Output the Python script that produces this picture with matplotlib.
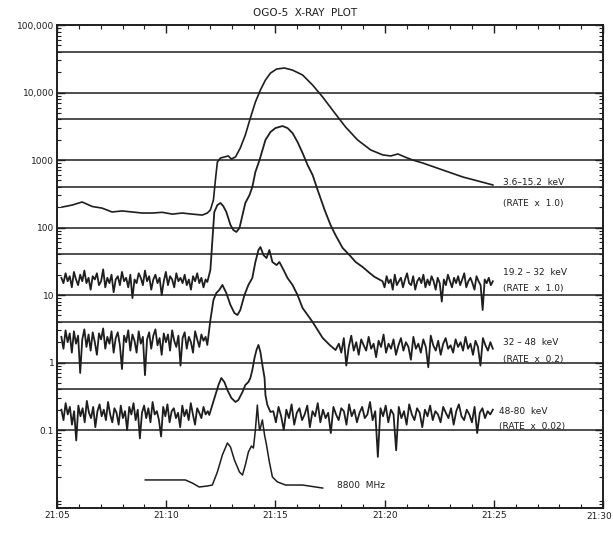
import numpy as np
import matplotlib
matplotlib.use('Agg')
import matplotlib.pyplot as plt
from matplotlib.ticker import FixedLocator, FixedFormatter, LogLocator, NullFormatter, MultipleLocator

# time = minutes after 21:00 UT

# 3.6-15.2 keV (rate x 1.0)
t_lo = [5.23, 5.69, 6.15, 6.61, 7.06, 7.52, 7.98, 8.44, 8.90, 9.36, 9.82, 10.28, 10.73,
        11.19, 11.65, 11.88, 12.02, 12.16, 12.25, 12.34, 12.48, 12.66, 12.84, 12.98, 13.17,
        13.39, 13.62, 13.85, 14.08, 14.31, 14.54, 14.77, 15.05, 15.41, 15.78, 16.24, 16.70,
        17.16, 17.61, 18.21, 18.76, 19.36, 19.91, 20.28, 20.60, 20.92, 21.28, 21.74, 22.66,
        23.58, 24.27, 24.95]
r_lo = [201, 215, 239, 205, 194, 170, 176, 170, 164, 164, 168, 158, 164,
        158, 153, 164, 182, 255, 506, 934, 1070, 1110, 1150, 1035, 1110,
        1510, 2350, 4190, 7230, 10900, 15300, 19400, 22300, 23100, 21500, 18200, 12900,
        8580, 5500, 3080, 1980, 1410, 1190, 1150, 1230, 1110, 1000, 903, 711,
        560, 489, 427]

# 19.2-32 keV (rate x 1.0)
c2_pre = [18, 15, 21, 16, 19, 13, 22, 17, 14, 20, 16, 23, 15, 18, 12, 19, 17, 21, 14, 16,
          24, 13, 18, 15, 20, 11, 17, 19, 14, 22, 16, 18, 13, 20, 9, 17, 15, 21, 18, 14,
          23, 16, 19, 12, 17, 20, 15, 18, 10, 16, 22, 14, 19, 17, 13, 21, 16, 18, 15, 20,
          14, 17, 12, 19, 16, 21, 15, 18, 13, 17]
t2_evt = [11.88, 12.02, 12.11, 12.20, 12.34, 12.48, 12.61, 12.75, 12.94, 13.07, 13.21, 13.35,
          13.49, 13.62, 13.81, 13.94, 14.08, 14.27, 14.54, 14.77, 15.00, 15.32, 15.55, 15.78,
          16.01, 16.24, 16.47, 16.70, 16.93, 17.25, 17.52, 17.75, 18.07, 18.39, 18.67, 18.99,
          19.31, 19.54]
r2_evt = [15.6, 23.5, 65, 170, 215, 231, 208, 170, 109, 92, 86, 98,
          153, 231, 303, 398, 664, 1000, 1980, 2600, 2980, 3190, 2980, 2510,
          1850, 1270, 843, 600, 359, 182, 109, 77, 50, 39, 30.8, 26,
          21.2, 18.5]
c2_post = [16, 13, 19, 15, 17, 12, 20, 14, 16, 18, 13, 17, 21, 15, 14, 19, 12, 16, 18, 15,
           20, 13, 17, 14, 19, 16, 12, 18, 15, 8, 17, 14, 20, 16, 13, 18, 15, 19, 14, 17,
           21, 13, 16, 18, 15, 12, 19, 16, 14, 6, 17, 15, 18, 14, 16]

# 32-48 keV (rate x 0.2)
c3_pre = [2.4, 1.6, 3.0, 2.0, 2.7, 1.4, 2.9, 1.9, 2.5, 0.7, 2.2, 3.1, 1.7, 2.6, 1.5, 2.8,
          2.0, 1.3, 2.7, 2.2, 3.2, 1.6, 2.4, 1.9, 2.9, 1.4, 2.3, 2.8, 1.8, 0.8, 2.5, 2.0,
          3.0, 1.5, 2.6, 2.1, 1.4, 2.9, 1.9, 2.4, 0.65, 2.2, 2.8, 1.6, 2.5, 3.1, 1.8, 2.3,
          1.3, 2.7, 2.0, 2.6, 1.5, 3.0, 2.1, 1.7, 2.5, 0.9, 2.3, 2.8, 1.6, 2.4, 2.0, 1.4,
          2.9, 2.2, 1.7, 2.6, 2.1, 2.4]
t3_evt = [11.88, 12.02, 12.16, 12.29, 12.43, 12.57, 12.75, 12.94, 13.12, 13.26, 13.39, 13.58,
          13.76, 13.94, 14.08, 14.22, 14.31, 14.45, 14.59, 14.72, 14.86, 15.05, 15.18, 15.37,
          15.55, 15.78, 16.01, 16.24, 16.47, 16.70, 16.93, 17.16, 17.48, 17.75]
r3_evt = [1.82, 4.26, 8.43, 10.7, 11.9, 14.1, 10.7, 7.1, 5.41, 5.06, 6.0, 10,
          14.1, 17.9, 30.8, 46.4, 51.4, 39.1, 35.3, 46.4, 30.8, 27.8, 30.8, 23.5,
          17.9, 14.1, 10, 6.42, 5.06, 3.98, 3.03, 2.31, 1.82, 1.53]
c3_post = [1.9, 1.4, 2.3, 0.9, 1.7, 2.5, 1.5, 2.0, 1.3, 2.2, 1.8, 1.5, 2.4, 1.6, 1.9, 1.2,
           2.1, 1.7, 2.6, 1.4, 1.9, 1.6, 2.2, 1.3, 1.8, 2.3, 1.5, 2.0, 1.7, 1.1, 2.4, 1.6,
           1.9, 1.4, 2.2, 1.7, 0.85, 2.5, 1.8, 1.5, 2.1, 1.3, 1.9, 2.3, 1.6, 1.8, 1.4, 2.2,
           1.7, 2.0, 1.5, 2.4, 1.6, 1.9, 1.3, 2.1, 1.7, 0.9, 2.3, 1.8, 1.5, 2.0, 1.6]

# 48-80 keV (rate x 0.02)
c4_pre = [0.20, 0.14, 0.25, 0.17, 0.22, 0.12, 0.19, 0.07, 0.23, 0.16, 0.21, 0.13, 0.27, 0.18,
          0.15, 0.22, 0.11, 0.19, 0.24, 0.16, 0.20, 0.14, 0.26, 0.17, 0.13, 0.21, 0.18, 0.12,
          0.23, 0.15, 0.19, 0.10, 0.22, 0.17, 0.25, 0.14, 0.20, 0.075, 0.18, 0.23, 0.15, 0.21,
          0.13, 0.26, 0.17, 0.19, 0.14, 0.08, 0.22, 0.16, 0.24, 0.13, 0.19, 0.21, 0.15, 0.18,
          0.11, 0.23, 0.16, 0.20, 0.14, 0.25, 0.17, 0.12, 0.21, 0.18, 0.15, 0.22, 0.17, 0.19]
t4_evt = [11.97, 12.11, 12.25, 12.39, 12.52, 12.66, 12.80, 12.98, 13.17, 13.30, 13.49, 13.62,
          13.76, 13.85, 13.94, 14.04, 14.13, 14.22, 14.31, 14.40, 14.50, 14.54, 14.63, 14.77]
r4_evt = [0.167, 0.234, 0.330, 0.464, 0.589, 0.514, 0.391, 0.298, 0.260, 0.278, 0.366, 0.464,
          0.514, 0.589, 0.774, 1.17, 1.53, 1.82, 1.43, 0.918, 0.589, 0.330, 0.234, 0.185]
c4_post = [0.19, 0.13, 0.22, 0.16, 0.10, 0.20, 0.15, 0.24, 0.12, 0.18,
           0.21, 0.14, 0.17, 0.23, 0.11, 0.19, 0.16, 0.25, 0.13, 0.20,
           0.15, 0.18, 0.09, 0.22, 0.17, 0.14, 0.21, 0.19, 0.12, 0.24,
           0.16, 0.20, 0.13, 0.18, 0.22, 0.15, 0.17, 0.26, 0.14, 0.19,
           0.04, 0.21, 0.16, 0.23, 0.13, 0.20, 0.17, 0.05, 0.22, 0.15,
           0.19, 0.12, 0.24, 0.17, 0.14, 0.21, 0.18, 0.11, 0.20, 0.16,
           0.23, 0.14, 0.19, 0.17, 0.13, 0.22, 0.18, 0.15, 0.21, 0.12,
           0.19, 0.24, 0.16, 0.14, 0.20, 0.17, 0.13, 0.22, 0.09, 0.18,
           0.21, 0.15, 0.19, 0.17, 0.20]

# 8800 MHz radio (arbitrary, drawn at the bottom)
t_radio = [9.04, 9.82, 10.87, 11.19, 11.51, 11.88, 12.11, 12.34, 12.57, 12.80, 12.94, 13.12,
           13.35, 13.49, 13.62, 13.76, 13.90, 13.99, 14.08, 14.17, 14.22, 14.27, 14.31, 14.40,
           14.50, 14.59, 14.72, 14.86, 15.09, 15.46, 16.24, 17.16]
r_radio = [0.0182, 0.0182, 0.0182, 0.0164, 0.0143, 0.0148, 0.0153, 0.0239, 0.0427, 0.0642,
           0.0560, 0.0360, 0.0239, 0.0215, 0.0303, 0.0472, 0.0579, 0.0541, 0.100, 0.234,
           0.141, 0.100, 0.107, 0.141, 0.0843, 0.060, 0.0336, 0.0201, 0.0170, 0.0153,
           0.0153, 0.0138]

grid_levels = [4e4, 1e4, 4e3, 1e3, 400, 100, 40, 10, 4, 1, 0.4, 0.1]
decades = [0.1, 1, 10, 100, 1000, 1e4, 1e5]
decade_labels = ['0.1', '1', '10', '100', '1000', '10,000', '100,000']
time_ticks = [5, 10, 15, 20, 25, 30]
time_labels = ['21:05', '21:10', '21:15', '21:20', '21:25', '']

ink = '#1e1e1e'

fig = plt.figure(figsize=(6.13, 5.33), dpi=100)
ax = fig.add_axes([0.093, 0.047, 0.891, 0.906])

for g in grid_levels:
    ax.axhline(g, color=ink, lw=1.1, zorder=1)

ax.plot(t_lo, r_lo, color=ink, lw=1.2)

t2 = list(np.linspace(5.2, 11.8, len(c2_pre))) + t2_evt + list(np.linspace(19.9, 24.95, len(c2_post)))
ax.plot(t2, c2_pre + r2_evt + c2_post, color=ink, lw=1.3)

t3 = list(np.linspace(5.2, 11.8, len(c3_pre))) + t3_evt + list(np.linspace(17.9, 24.95, len(c3_post)))
ax.plot(t3, c3_pre + r3_evt + c3_post, color=ink, lw=1.3)

t4 = list(np.linspace(5.2, 11.9, len(c4_pre))) + t4_evt + list(np.linspace(14.9, 24.95, len(c4_post)))
ax.plot(t4, c4_pre + r4_evt + c4_post, color=ink, lw=1.3)

ax.plot(t_radio, r_radio, color=ink, lw=1.1)

ax.set_yscale('log')
ax.set_ylim(0.007, 1e5)
ax.set_xlim(5, 30)

ax.yaxis.set_major_locator(FixedLocator(decades))
ax.yaxis.set_major_formatter(FixedFormatter(decade_labels))
ax.yaxis.set_minor_locator(LogLocator(base=10, subs=np.arange(2, 10)))
ax.yaxis.set_minor_formatter(NullFormatter())
ax.xaxis.set_major_locator(FixedLocator(time_ticks))
ax.xaxis.set_major_formatter(FixedFormatter(time_labels))
ax.xaxis.set_minor_locator(MultipleLocator(1))

ax.tick_params(which='both', direction='in', top=True, right=True, colors=ink,
               labelsize=6.5, pad=2)
ax.tick_params(which='major', length=6, width=1)
ax.tick_params(which='minor', length=3, width=0.8)
for s in ax.spines.values():
    s.set_linewidth(1.4)
    s.set_color(ink)

# last time label sits at the page edge, keep it inside the figure
ax.text(1.016, -0.0075, '21:30', transform=ax.transAxes, fontsize=6.5, color=ink,
        ha='right', va='top')

labels = [(0.817, 0.673, '3.6–15.2  keV'), (0.817, 0.631, '(RATE  x  1.0)'),
          (0.817, 0.487, '19.2 – 32  keV'), (0.817, 0.455, '(RATE  x  1.0)'),
          (0.817, 0.342, '32 – 48  keV'), (0.817, 0.308, '(RATE  x  0.2)'),
          (0.81, 0.199, '48-80  keV'), (0.81, 0.168, '(RATE  x  0.02)'),
          (0.513, 0.046, '8800  MHz')]
for x, y, s in labels:
    ax.text(x, y, s, transform=ax.transAxes, fontsize=6.5, color=ink, va='center', ha='left')

fig.text(0.498, 0.976, 'OGO-5  X-RAY  PLOT', ha='center', va='center', fontsize=7.5, color=ink)

fig.savefig('out.png', dpi=100)
